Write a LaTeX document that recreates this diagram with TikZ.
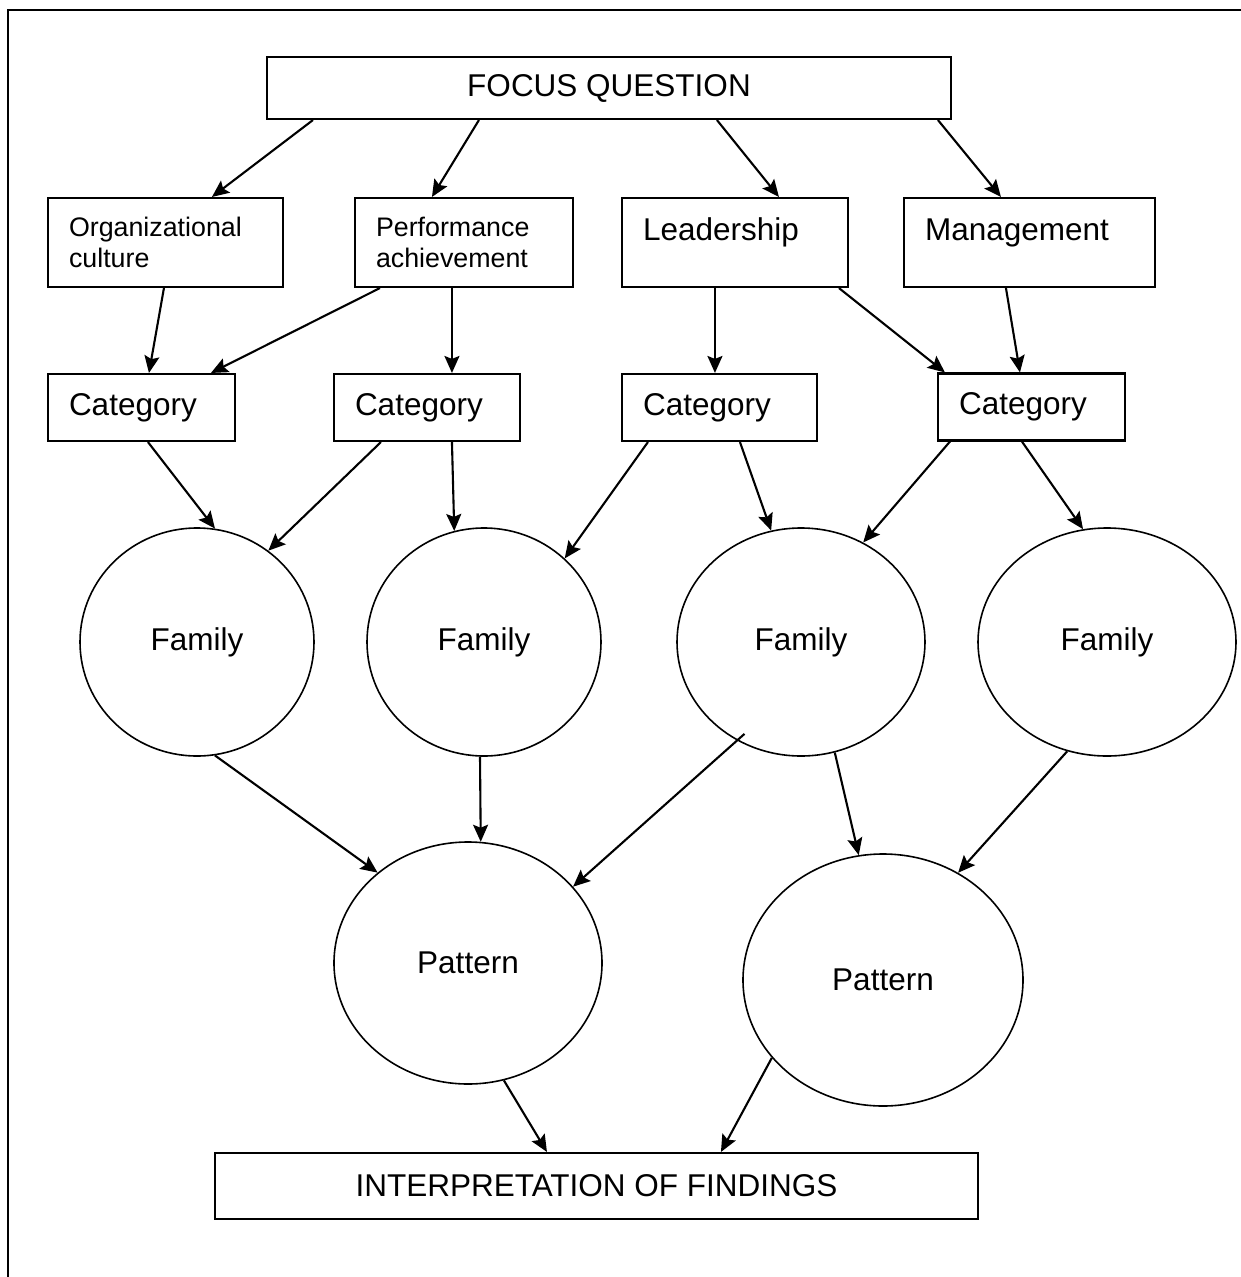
\documentclass[tikz,border=0pt]{standalone}
\usepackage{fontspec}
\setmainfont{Liberation Sans}
\usetikzlibrary{shapes.geometric,arrows.meta}
\newcommand{\bigtxt}{\fontsize{31.5}{37}\selectfont}
\newcommand{\smalltxt}{\fontsize{26.8}{31}\selectfont}
\tikzset{
  box/.style={draw, line width=2.1pt, inner sep=0pt, font=\bigtxt},
  topic/.style={draw, line width=2.1pt, inner xsep=21pt, inner ysep=0pt, minimum height=89pt, align=left},
  catbox/.style={draw, line width=2.1pt, inner xsep=21pt, inner ysep=0pt, minimum height=67pt, align=left, font=\bigtxt},
  fam/.style={ellipse, draw, line width=1.6pt, inner sep=0pt, font=\bigtxt},
  arr/.style={-{Stealth[length=17pt,width=15pt,inset=3pt]}, line width=2.1pt},
}

\begin{document}
\begin{tikzpicture}[x=1pt,y=-1pt]
  \useasboundingbox (0,0) rectangle (1241,1277);
  \draw[line width=2.5pt] (8,1277) -- (8,10) -- (1241,10);

  \node[box, minimum width=684pt, minimum height=62pt] (focus) at (609,88) {FOCUS QUESTION};

  \node[topic, text width=193pt, font=\smalltxt] (orgcult) at (165.5,242.5) {Organizational\\culture};
  \node[topic, text width=176pt, font=\smalltxt] (perfach) at (464,242.5) {Performance\\achievement};
  \node[topic, text width=184pt, font=\bigtxt, text height=24pt, text depth=29pt] (lead) at (735,242.5) {Leadership};
  \node[topic, text width=209pt, font=\bigtxt, text height=24pt, text depth=29pt] (mgmt) at (1029.5,242.5) {Management};

  \node[catbox, text width=145pt] (cat1) at (141.5,407.5) {Category};
  \node[catbox, text width=144pt] (cat2) at (427,407.5) {Category};
  \node[catbox, text width=153pt] (cat3) at (719.5,407.5) {Category};
  \node[catbox, text width=145pt] (cat4) at (1031.5,407) {Category};

  \node[fam, minimum width=234pt, minimum height=228pt] (fam1) at (197,642) {Family};
  \node[fam, minimum width=234pt, minimum height=228pt] (fam2) at (484,642) {Family};
  \node[fam, minimum width=248pt, minimum height=228pt] (fam3) at (801,642) {Family};
  \node[fam, minimum width=258pt, minimum height=228pt] (fam4) at (1107,642) {Family};

  \node[fam, minimum width=268pt, minimum height=242pt] (pat1) at (468,963) {Pattern};
  \node[fam, minimum width=280pt, minimum height=252pt] (pat2) at (883,980) {Pattern};

  \node[box, minimum width=763pt, minimum height=66pt] (interp) at (596.5,1186) {INTERPRETATION OF FINDINGS};

  \draw[arr] ([xshift=47pt]focus.south west) -- ([xshift=165pt]orgcult.north west);
  \draw[arr] ([xshift=213pt]focus.south west) -- ([xshift=78pt]perfach.north west);
  \draw[arr] ([xshift=451pt]focus.south west) -- ([xshift=158pt]lead.north west);
  \draw[arr] ([xshift=672pt]focus.south west) -- ([xshift=98pt]mgmt.north west);

  \draw[arr] ([xshift=117pt]orgcult.south west) -- ([xshift=102pt]cat1.north west);
  \draw[arr] ([xshift=26pt]perfach.south west) -- ([xshift=164pt]cat1.north west);
  \draw[arr] ([xshift=98pt]perfach.south west) -- ([xshift=119pt]cat2.north west);
  \draw[arr] ([xshift=94pt]lead.south west) -- ([xshift=94pt]cat3.north west);
  \draw[arr] ([xshift=218pt]lead.south west) -- ([xshift=8pt]cat4.north west);
  \draw[arr] ([xshift=103pt]mgmt.south west) -- ([xshift=83pt]cat4.north west);

  \draw[arr] ([xshift=101pt]cat1.south west) -- (fam1.81);
  \draw[arr] ([xshift=48pt]cat2.south west) -- (fam1.52);
  \draw[arr] ([xshift=119pt]cat2.south west) -- (fam2.105);
  \draw[arr] ([xshift=27pt]cat3.south west) -- (fam2.46);
  \draw[arr] ([xshift=119pt]cat3.south west) -- (fam3.105);
  \draw[arr] ([xshift=13pt]cat4.south west) -- (fam3.58);
  \draw[arr] ([xshift=85pt]cat4.south west) -- (fam4.102);

  \draw[arr] (fam1.279) -- (pat1.135);
  \draw[arr] (fam2.268) -- (pat1.84);
  \draw[arr, shorten <=-10pt] (fam3.237) -- (pat1.36);
  \draw[arr] (fam3.287) -- (pat2.101);
  \draw[arr] (fam4.250) -- (pat2.55);

  \draw[arr] (pat1.287) -- ([xshift=333pt]interp.north west);
  \draw[arr] (pat2.215) -- ([xshift=507pt]interp.north west);
\end{tikzpicture}
\end{document}
